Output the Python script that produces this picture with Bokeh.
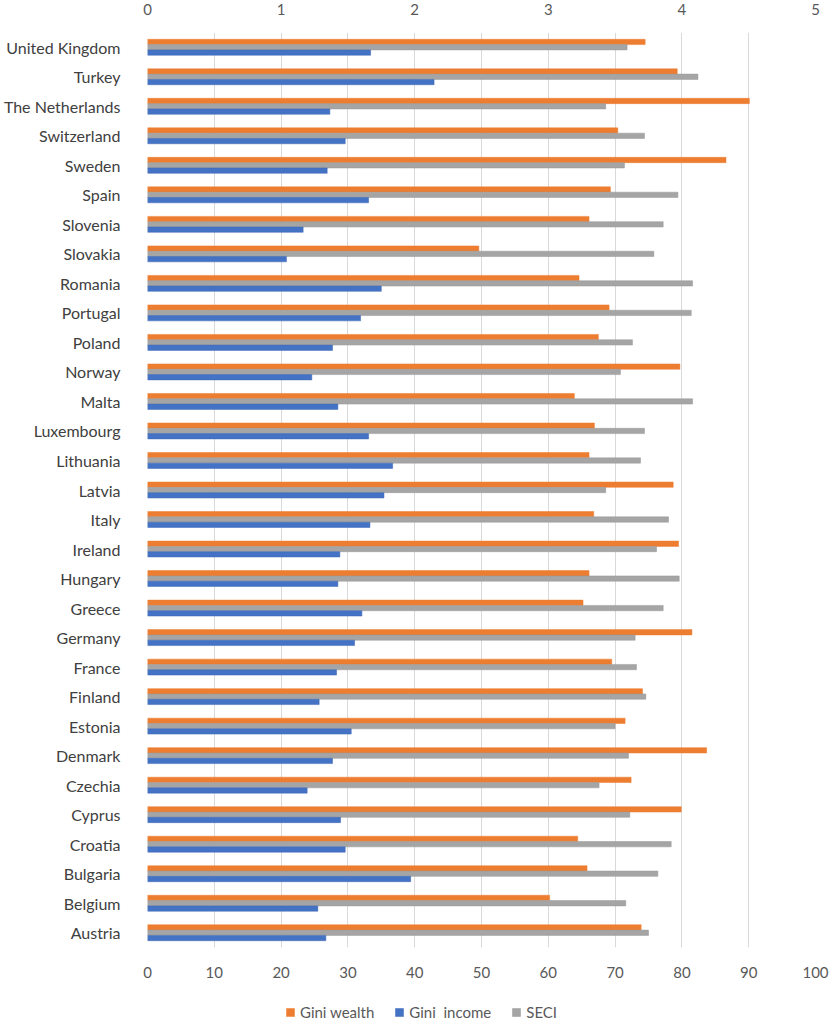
from bokeh.plotting import figure
from bokeh.layouts import column
from bokeh.models import (FactorRange, Range1d, LinearAxis, Legend, LegendItem,
                          ColumnDataSource, FixedTicker)
from bokeh.transform import dodge
from bokeh.embed import file_html
from bokeh.resources import INLINE

countries = ["United Kingdom", "Turkey", "The Netherlands", "Switzerland", "Sweden",
             "Spain", "Slovenia", "Slovakia", "Romania", "Portugal", "Poland",
             "Norway", "Malta", "Luxembourg", "Lithuania", "Latvia", "Italy",
             "Ireland", "Hungary", "Greece", "Germany", "France", "Finland",
             "Estonia", "Denmark", "Czechia", "Cyprus", "Croatia", "Bulgaria",
             "Belgium", "Austria"]

gini_wealth = [74.5, 79.3, 90.1, 70.4, 86.6, 69.3, 66.1, 49.6, 64.6, 69.1, 67.5,
               79.7, 63.9, 66.9, 66.1, 78.7, 66.8, 79.5, 66.1, 65.2, 81.5, 69.5,
               74.1, 71.5, 83.7, 72.4, 79.9, 64.4, 65.8, 60.2, 73.9]
gini_income = [33.4, 42.9, 27.3, 29.6, 26.9, 33.1, 23.3, 20.8, 35.0, 31.9, 27.7,
               24.6, 28.5, 33.1, 36.7, 35.4, 33.3, 28.8, 28.5, 32.1, 31.0, 28.3,
               25.7, 30.5, 27.7, 23.9, 28.9, 29.6, 39.4, 25.5, 26.7]
seci = [3.59, 4.12, 3.43, 3.72, 3.57, 3.97, 3.86, 3.79, 4.08, 4.07, 3.63,
        3.54, 4.08, 3.72, 3.69, 3.43, 3.90, 3.81, 3.98, 3.86, 3.65, 3.66,
        3.73, 3.50, 3.60, 3.38, 3.61, 3.92, 3.82, 3.58, 3.75]

series_names = ["Gini wealth", "Gini  income", "SECI"]
bottom_ticks = [0, 10, 20, 30, 40, 50, 60, 70, 80, 90, 100]
top_ticks = [0, 1, 2, 3, 4, 5]

ORANGE = "#ED7D31"
BLUE = "#4472C4"
GRAY = "#A5A5A5"
FONT = "Lato"

src = ColumnDataSource(dict(country=countries, wealth=gini_wealth,
                            income=gini_income, seci=seci))

p = figure(y_range=FactorRange(factors=list(reversed(countries))),
           x_range=Range1d(0, 100),
           frame_width=668, frame_height=915,
           min_border_left=139, min_border_right=14, min_border_top=24,
           min_border_bottom=50,
           output_backend="svg", toolbar_location=None,
           background_fill_color="white", border_fill_color="white")
p.extra_x_ranges = {"seci": Range1d(0, 5)}
p.outline_line_color = None

bh = 0.18
p.hbar(y=dodge("country", bh, range=p.y_range), left=0, right="wealth",
       height=bh, source=src, fill_color=ORANGE, line_color=ORANGE, line_width=0.5)
p.hbar(y=dodge("country", 0.0, range=p.y_range), left=0, right="seci",
       height=bh, source=src, fill_color=GRAY, line_color="#999999", line_width=0.5,
       x_range_name="seci")
p.hbar(y=dodge("country", -bh, range=p.y_range), left=0, right="income",
       height=bh, source=src, fill_color=BLUE, line_color="#3F69B5", line_width=0.5)

# bottom axis
xa = p.xaxis[0]
xa.ticker = FixedTicker(ticks=bottom_ticks)
xa.axis_line_color = None
xa.major_tick_line_color = None
xa.minor_tick_line_color = None
xa.major_label_text_font = FONT
xa.major_label_text_font_size = "15px"
xa.major_label_text_color = "#595959"
xa.major_label_standoff = 13

# top axis for SECI
ta = LinearAxis(x_range_name="seci", ticker=FixedTicker(ticks=top_ticks))
ta.axis_line_color = None
ta.major_tick_line_color = None
ta.minor_tick_line_color = None
ta.major_label_text_font = FONT
ta.major_label_text_font_size = "15px"
ta.major_label_text_color = "#595959"
ta.major_label_standoff = 12
p.add_layout(ta, "above")

# y axis
ya = p.yaxis[0]
ya.axis_line_color = None
ya.major_tick_line_color = None
ya.minor_tick_line_color = None
ya.major_label_text_font = FONT
ya.major_label_text_font_size = "16px"
ya.major_label_text_color = "#404040"
ya.major_label_standoff = 21

p.xgrid.ticker = FixedTicker(ticks=bottom_ticks)
p.xgrid.grid_line_color = "#D9D9D9"
p.xgrid.grid_line_width = 1
p.ygrid.grid_line_color = None

# legend strip below the chart (key renderers use the same data, kept out of view)
lg = figure(width=821, height=24, x_range=Range1d(0, 100), y_range=Range1d(0, 1),
            min_border=0, x_axis_location=None, y_axis_location=None,
            output_backend="svg", toolbar_location=None,
            background_fill_color="white", border_fill_color="white")
lg.outline_line_color = None
lg.grid.visible = False
k_w = lg.hbar(y=-5, left=0, right="wealth", height=0.5, source=src,
              fill_color=ORANGE, line_color=ORANGE, line_width=0.5)
k_i = lg.hbar(y=-5, left=0, right="income", height=0.5, source=src,
              fill_color=BLUE, line_color="#3F69B5", line_width=0.5)
k_s = lg.hbar(y=-5, left=0, right="seci", height=0.5, source=src,
              fill_color=GRAY, line_color="#999999", line_width=0.5)

legend = Legend(items=[LegendItem(label=series_names[0], renderers=[k_w]),
                       LegendItem(label=series_names[1], renderers=[k_i]),
                       LegendItem(label=series_names[2], renderers=[k_s])],
                orientation="horizontal", location=(138, 0),
                glyph_width=10, glyph_height=10, label_standoff=5, spacing=20,
                label_text_font=FONT, label_text_font_size="15px",
                label_text_color="#595959", label_height=18,
                padding=3, margin=0, border_line_color=None,
                background_fill_alpha=0)
lg.add_layout(legend)

open("out.html", "w").write(file_html(column(p, lg), INLINE))
